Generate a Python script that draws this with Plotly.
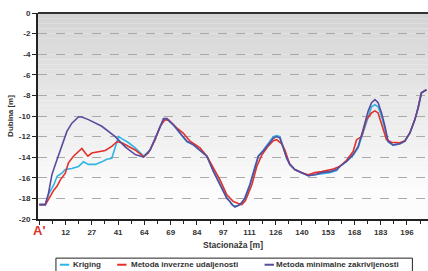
import plotly.graph_objects as go

# x positions along the profile, in units of the stationing labels (0 = A')
tick_labels = ["A'", "12", "27", "41", "64", "69", "84", "97", "111", "126", "140", "153", "168", "183", "196"]
y_ticks = [0, -2, -4, -6, -8, -10, -12, -14, -16, -18, -20]

kriging_x = [0, 0.23, 0.35, 0.42, 0.55, 0.68, 0.86, 0.99, 1.24, 1.49, 1.68, 1.87, 2.13, 2.38, 2.57, 2.76, 2.89, 3.02, 3.14, 3.40,
             3.65, 3.97, 4.22, 4.41, 4.60, 4.73, 4.86, 5.11, 5.36, 5.62, 5.87, 6.12, 6.38, 6.63, 6.88, 7.14, 7.26, 7.39, 7.52, 7.71,
             7.83, 8.02, 8.21, 8.34, 8.53, 8.72, 8.91, 9.04, 9.16, 9.29, 9.42, 9.54, 9.73, 9.99, 10.24, 10.49, 10.75, 11.06, 11.32, 11.44,
             11.70, 11.95, 12.14, 12.33, 12.52, 12.65, 12.78, 12.90, 13.03, 13.16, 13.28, 13.47, 13.73, 13.92, 14.11, 14.30, 14.42, 14.55, 14.74]
kriging_y = [-18.6, -18.6, -17.6, -17.3, -16.7, -15.85, -15.55, -15.2, -15.1, -14.9, -14.45, -14.7, -14.7, -14.45, -14.2, -14.1, -13.1, -12.0, -12.2, -12.6,
             -13.1, -13.9, -13.3, -12.2, -11.0, -10.3, -10.3, -10.9, -11.7, -12.5, -12.8, -13.3, -13.9, -15.3, -16.6, -17.9, -18.3, -18.7, -18.75, -18.5,
             -17.9, -16.6, -14.9, -13.9, -13.3, -12.7, -12.0, -11.9, -12.0, -13.0, -14.1, -14.7, -15.2, -15.5, -15.8, -15.7, -15.6, -15.5, -15.3, -14.9,
             -14.4, -13.8, -13.1, -11.6, -9.9, -9.1, -8.9, -9.1, -10.0, -11.2, -12.5, -12.85, -12.7, -12.45, -11.65, -10.35, -9.25, -7.75, -7.45]

idw_x = [0, 0.23, 0.35, 0.55, 0.68, 0.80, 0.99, 1.11, 1.30, 1.49, 1.62, 1.75, 1.85, 2.00, 2.26, 2.51, 2.76, 2.95, 3.14, 3.40,
         3.65, 3.97, 4.15, 4.41, 4.60, 4.79, 4.92, 5.23, 5.48, 5.74, 6.12, 6.38, 6.63, 6.88, 7.14, 7.39, 7.58, 7.71, 7.85, 8.09,
         8.28, 8.47, 8.72, 8.91, 9.04, 9.23, 9.35, 9.54, 9.73, 9.99, 10.24, 10.49, 10.75, 11.19, 11.44, 11.70, 11.95, 12.08, 12.27, 12.46,
         12.65, 12.78, 12.90, 13.03, 13.22, 13.41, 13.73, 13.92, 14.11, 14.30, 14.42, 14.55, 14.74]
idw_y = [-18.6, -18.6, -18.1, -17.2, -16.8, -16.2, -15.55, -14.55, -13.9, -13.4, -13.15, -13.6, -13.9, -13.6, -13.45, -13.35, -12.95, -12.5, -12.6, -12.95,
         -13.3, -13.95, -13.6, -12.3, -11.0, -10.35, -10.4, -11.15, -11.65, -12.45, -13.1, -13.9, -15.05, -16.2, -17.65, -18.3, -18.5, -18.6, -18.2, -16.7,
         -14.9, -13.8, -12.9, -12.4, -12.3, -12.7, -13.3, -14.7, -15.2, -15.5, -15.7, -15.5, -15.4, -15.15, -14.9, -14.3, -13.45, -12.3, -12.0, -10.35,
         -9.7, -9.5, -9.7, -10.7, -12.3, -12.55, -12.6, -12.4, -11.65, -10.35, -9.25, -7.75, -7.45]

mincurv_x = [0, 0.23, 0.35, 0.48, 0.61, 0.73, 0.86, 1.05, 1.24, 1.49, 1.62, 1.87, 2.38, 2.89, 3.27, 3.65, 3.97, 4.22, 4.41, 4.60,
             4.73, 4.86, 5.11, 5.36, 5.62, 5.87, 6.12, 6.38, 6.63, 6.88, 7.14, 7.26, 7.33, 7.45, 7.64, 7.83, 8.02, 8.21, 8.34, 8.53,
             8.72, 8.91, 9.04, 9.16, 9.29, 9.42, 9.54, 9.73, 9.99, 10.24, 10.49, 10.75, 11.06, 11.32, 11.44, 11.70, 11.95, 12.14, 12.33, 12.52,
             12.65, 12.78, 12.90, 13.03, 13.16, 13.28, 13.47, 13.73, 13.92, 14.11, 14.30, 14.42, 14.55, 14.74]
mincurv_y = [-18.6, -18.6, -17.5, -15.7, -14.7, -13.8, -12.8, -11.5, -10.7, -10.1, -10.1, -10.35, -11.0, -12.0, -13.0, -13.75, -14.0, -13.3, -12.2, -11.0,
             -10.25, -10.25, -10.85, -11.65, -12.45, -12.8, -13.3, -13.9, -15.4, -16.7, -18.0, -18.3, -18.6, -18.85, -18.6, -18.0, -16.7, -15.05, -13.9, -13.4,
             -12.8, -12.15, -12.0, -12.15, -13.1, -14.1, -14.7, -15.2, -15.5, -15.8, -15.7, -15.5, -15.4, -15.2, -14.9, -14.4, -13.75, -12.95, -11.3, -9.55,
             -8.7, -8.4, -8.7, -9.7, -11.0, -12.45, -12.8, -12.7, -12.45, -11.65, -10.35, -9.25, -7.75, -7.45]

series = [
    ("Kriging", kriging_x, kriging_y, "#2fb4e6"),
    ("Metoda inverzne udaljenosti", idw_x, idw_y, "#e2312b"),
    ("Metoda minimalne zakrivljenosti", mincurv_x, mincurv_y, "#574c9e"),
]

fig = go.Figure()
for name, xs, ys, col in series:
    fig.add_trace(go.Scatter(x=xs, y=ys, mode="lines", name=name,
                             line=dict(color=col, width=1.6)))

# gradient background bands (grey at top fading to white)
n = 40
for i in range(n):
    t = i / (n - 1)
    v = int(round(212 + (252 - 212) * min(1.0, t * 1.15)))
    fig.add_shape(type="rect", xref="x domain", yref="y domain",
                  x0=0, x1=1, y0=1 - (i + 1) / n, y1=1 - i / n,
                  fillcolor=f"rgb({v},{v},{v})", line=dict(width=0), layer="below")

# top border line
fig.add_shape(type="line", xref="x domain", yref="y domain", x0=0, x1=1, y0=1, y1=1,
              line=dict(color="#333", width=2))

# legend drawn as a framed box below the axis title
fig.add_shape(type="rect", xref="paper", yref="paper", x0=0.046, x1=0.96, y0=-0.262, y1=-0.19,
              line=dict(color="#222", width=1), fillcolor="white")
legend_pos = [(0.056, 0.085), (0.203, 0.233), (0.581, 0.606)]
for (name, _, _, col), (lx0, tx) in zip(series, legend_pos):
    fig.add_shape(type="line", xref="paper", yref="paper", x0=lx0, x1=lx0 + 0.024, y0=-0.222, y1=-0.222,
                  line=dict(color=col, width=2))
    fig.add_annotation(text=name, xref="paper", yref="paper", x=tx, y=-0.222, xanchor="left", yanchor="middle",
                       showarrow=False, font=dict(size=8, color="#333", weight="bold"))

ticktext = ["<span style='color:#e2312b;font-size:13px'>A'</span>"] + tick_labels[1:]

fig.update_layout(
    width=428, height=271,
    margin=dict(l=38, r=0, t=13, b=52),
    paper_bgcolor="white", plot_bgcolor="white",
    font=dict(family="Liberation Sans", size=8, color="#333333", weight="bold"),
    showlegend=False,
    xaxis=dict(range=[-0.05, 14.8], tickmode="array", tickvals=list(range(len(tick_labels))),
               ticktext=ticktext, ticks="outside", ticklen=4, tickcolor="#222",
               showgrid=False, zeroline=False, showline=True, linecolor="#222", linewidth=2,
               minor=dict(dtick=0.5, tick0=0, ticks="outside", ticklen=3, tickcolor="#222", showgrid=False),
               title=dict(text="Stacionaža [m]", standoff=5, font=dict(size=8.5)),
               tickfont=dict(size=8)),
    yaxis=dict(range=[-20, 0], tickmode="array", tickvals=y_ticks, ticktext=[str(v) for v in y_ticks],
               ticks="outside", ticklen=4, tickcolor="#222",
               showgrid=True, gridcolor="#a9a9a9", griddash="dash", gridwidth=1,
               zeroline=False, showline=True, linecolor="#222", linewidth=2,
               title=dict(text="Dubina [m]", standoff=4, font=dict(size=8)),
               tickfont=dict(size=8)),
)

fig.write_html("out.html", config={"displayModeBar": False},
               post_script="document.body.style.margin='0';document.body.style.overflow='hidden';")
